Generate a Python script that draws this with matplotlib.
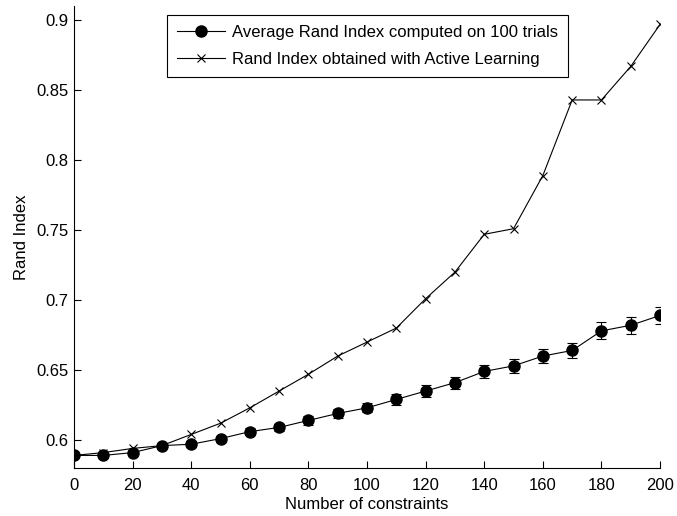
import matplotlib.pyplot as plt

plt.rcParams["font.family"] = ["Liberation Sans", "DejaVu Sans"]

constraints = [0, 10, 20, 30, 40, 50, 60, 70, 80, 90, 100,
               110, 120, 130, 140, 150, 160, 170, 180, 190, 200]
avg_rand = [0.589, 0.589, 0.591, 0.596, 0.597, 0.601, 0.606, 0.609, 0.614, 0.619, 0.623,
            0.629, 0.635, 0.641, 0.649, 0.653, 0.660, 0.664, 0.678, 0.682, 0.689]
avg_err = [0.001, 0.0012, 0.0015, 0.0018, 0.002, 0.0022, 0.0025, 0.0027, 0.003, 0.0032, 0.0033,
           0.004, 0.0045, 0.0043, 0.0048, 0.005, 0.0048, 0.0055, 0.006, 0.006, 0.006]
active_rand = [0.589, 0.591, 0.594, 0.596, 0.604, 0.612, 0.623, 0.635, 0.647, 0.660, 0.670,
               0.680, 0.701, 0.720, 0.747, 0.751, 0.789, 0.843, 0.843, 0.867, 0.897]

yticks = [0.6, 0.65, 0.7, 0.75, 0.8, 0.85, 0.9]
ytick_labels = ["0.6", "0.65", "0.7", "0.75", "0.8", "0.85", "0.9"]

fig = plt.figure(figsize=(6.77, 5.16), dpi=100)
ax = fig.add_axes([0.1093, 0.093, 0.8657, 0.895])

# 平均值带误差棒
eb = ax.errorbar(constraints, avg_rand, yerr=avg_err, color="black", linewidth=0.8,
                 marker="o", markersize=8, capsize=3.6, elinewidth=0.8, capthick=0.8)
ln, = ax.plot(constraints, active_rand, color="black", linewidth=0.8, marker="x",
              markersize=5.5, markeredgewidth=0.8)

ax.set_xlim(0, 200)
ax.set_ylim(0.58, 0.91)
ax.set_xticks(range(0, 201, 20))
ax.set_yticks(yticks)
ax.set_yticklabels(ytick_labels)
ax.tick_params(direction="in", labelsize=12, length=5, width=0.8)
ax.tick_params(axis="x", pad=7)
ax.tick_params(axis="y", pad=4)

ax.spines["top"].set_visible(False)
ax.spines["right"].set_visible(False)

ax.set_xlabel("Number of constraints", fontsize=12, labelpad=3)
ax.set_ylabel("Rand Index", fontsize=12, labelpad=5)

leg = ax.legend([eb[0], ln],
                ["Average Rand Index computed on 100 trials",
                 "Rand Index obtained with Active Learning"],
                loc="upper center", bbox_to_anchor=(0.5, 1.0), fontsize=12,
                fancybox=False, framealpha=1, edgecolor="black",
                handlelength=2.9, handletextpad=0.4, borderpad=0.6,
                labelspacing=0.75)
leg.get_frame().set_linewidth(0.8)

plt.savefig("out.png", dpi=100)
